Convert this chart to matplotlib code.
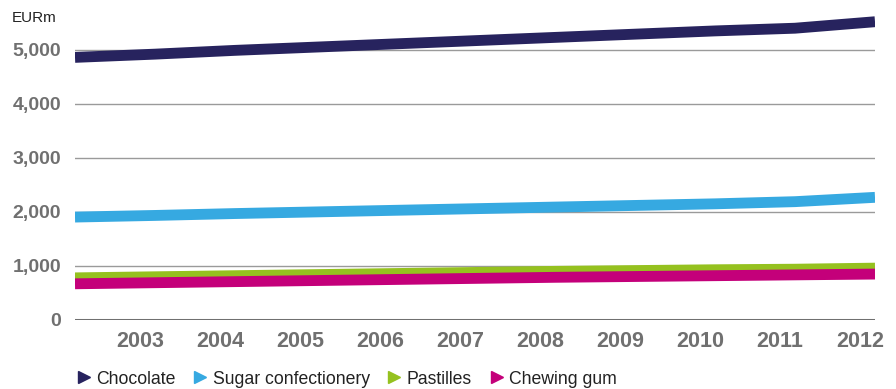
import matplotlib
matplotlib.use("Agg")
from matplotlib import pyplot as plt
from matplotlib.lines import Line2D
from matplotlib.transforms import ScaledTranslation

years = [2002, 2003, 2004, 2005, 2006, 2007, 2008, 2009, 2010, 2011, 2012]
chocolate = [4860, 4920, 4990, 5050, 5110, 5170, 5230, 5290, 5350, 5400, 5520]
sugar = [1905, 1935, 1970, 2000, 2030, 2060, 2090, 2120, 2150, 2190, 2270]
pastilles = [780, 800, 820, 840, 860, 880, 900, 915, 930, 940, 960]
chewing_gum = [670, 690, 710, 730, 750, 770, 790, 805, 820, 835, 850]

series = [
    ("Chocolate", chocolate, "#27235e"),
    ("Sugar confectionery", sugar, "#36a9e1"),
    ("Pastilles", pastilles, "#95c11f"),
    ("Chewing gum", chewing_gum, "#c4007a"),
]

y_ticks = [0, 1000, 2000, 3000, 4000, 5000]

plt.rcParams['font.family'] = ['Liberation Sans', 'DejaVu Sans']

fig = plt.figure(figsize=(8.96, 3.89), dpi=100)
ax = fig.add_axes([75 / 896, 1 - 320 / 389, 800 / 896, (320 - 12) / 389])

for yt in y_ticks[1:]:
    ax.axhline(yt, color="#9a9a9a", lw=1.0, zorder=1)
ax.axhline(0, color="#707070", lw=2.2, zorder=1)

for name, vals, col in series:
    ax.plot(years, vals, color=col, lw=7.8, solid_capstyle="butt", zorder=3)

ax.set_xlim(2002, 2012)
ax.set_ylim(0, 5700)
for s in ax.spines.values():
    s.set_visible(False)

ax.set_yticks(y_ticks)
ax.set_yticklabels([f"{v:,}" for v in y_ticks])
ax.set_xticks(years[1:])
ax.set_xticklabels([str(y) for y in years[1:]])
ax.tick_params(length=0, labelcolor="#707070")
ax.tick_params(axis="y", pad=10, labelsize=14)
ax.tick_params(axis="x", pad=8, labelsize=15.5)
shift = ScaledTranslation(-15 / 100, 0, fig.dpi_scale_trans)
for lbl in ax.get_xticklabels() + ax.get_yticklabels():
    lbl.set_fontweight("bold")
for lbl in ax.get_xticklabels():
    lbl.set_transform(lbl.get_transform() + shift)

fig.text(12 / 896, 1 - 18 / 389, "EURm", fontsize=11, color="#222222", va="center")

handles = [Line2D([], [], marker=">", ls="none", color=col, markersize=9)
           for _, _, col in series]
fig.legend(handles, [n for n, _, _ in series], loc="center left",
           bbox_to_anchor=(68 / 896, 1 - 379 / 389), ncol=4, frameon=False,
           fontsize=12.7, handlelength=0.8, handletextpad=0.3,
           columnspacing=1.0, borderpad=0, labelcolor="#222222")

fig.savefig("out.png", dpi=100)
